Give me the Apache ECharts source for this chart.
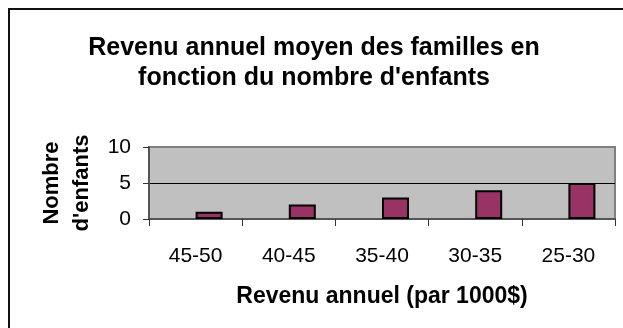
<!DOCTYPE html>
<html>
<head>
<meta charset="utf-8">
<script src="https://cdn.jsdelivr.net/npm/echarts@6/dist/echarts.min.js"></script>
<style>
  html, body { margin: 0; padding: 0; background: #fff; }
  #chart { width: 623px; height: 328px; }
</style>
</head>
<body>
<div id="chart"></div>
<script>
// Income brackets (thousands of dollars) and number of children
const categories = ['45-50', '40-45', '35-40', '30-35', '25-30'];
const childCounts = [1, 2, 3, 4, 5];
const emptySlot = ['-', '-', '-', '-', '-'];
const yTicks = { min: 0, max: 10, interval: 5 };

const titleLines = ['Revenu annuel moyen des familles en', "fonction du nombre d'enfants"];
const xName = 'Revenu annuel (par 1000$)';
const yName = "Nombre\nd'enfants";

const FONT = '"Liberation Sans", Arial, sans-serif';

const chart = echarts.init(document.getElementById('chart'), null, { renderer: 'canvas' });

chart.setOption({
  animation: false,
  backgroundColor: '#ffffff',
  textStyle: { fontFamily: FONT, color: '#000' },
  graphic: [{
    type: 'rect',
    shape: { x: 9, y: 9, width: 640, height: 340 },
    style: { fill: 'none', stroke: '#111', lineWidth: 2 },
    silent: true,
    z: 100
  }],
  title: {
    text: titleLines.join('\n'),
    left: 309,
    top: 28,
    textAlign: 'center',
    textStyle: {
      fontFamily: FONT,
      fontSize: 25,
      fontWeight: 'bold',
      lineHeight: 30,
      color: '#000'
    }
  },
  grid: {
    left: 149,
    top: 147,
    width: 466,
    height: 72,
    show: true,
    backgroundColor: '#c0c0c0',
    borderColor: '#808080',
    borderWidth: 2
  },
  xAxis: {
    type: 'category',
    data: categories,
    name: xName,
    nameLocation: 'middle',
    nameGap: 66,
    nameTextStyle: { fontFamily: FONT, fontSize: 23, fontWeight: 'bold', color: '#000' },
    axisLine: { lineStyle: { color: '#555', width: 2 } },
    axisTick: { show: true, alignWithLabel: false, length: 7, lineStyle: { color: '#333', width: 1 } },
    axisLabel: { fontFamily: FONT, fontSize: 21, color: '#000', margin: 27 },
    splitLine: { show: false }
  },
  yAxis: {
    type: 'value',
    min: yTicks.min,
    max: yTicks.max,
    interval: yTicks.interval,
    name: yName,
    nameLocation: 'middle',
    nameRotate: 90,
    nameGap: 49,
    nameTextStyle: { fontFamily: FONT, fontSize: 22, fontWeight: 'bold', color: '#000', lineHeight: 30 },
    axisLine: { show: true, lineStyle: { color: '#555', width: 2 } },
    axisTick: { show: true, inside: false, length: 6, lineStyle: { color: '#333', width: 1 } },
    axisLabel: { fontFamily: FONT, fontSize: 21, color: '#000', margin: 18 },
    splitLine: { show: true, lineStyle: { color: ['#808080', '#000000', '#808080'], width: 1 } }
  },
  series: [
    {
      type: 'bar',
      data: emptySlot,
      barWidth: 27,
      barGap: '0%',
      silent: true
    },
    {
      type: 'bar',
      data: childCounts,
      barWidth: 27,
      barGap: '0%',
      itemStyle: { color: '#993366', borderColor: '#000', borderWidth: 2 }
    }
  ]
});
</script>
</body>
</html>
